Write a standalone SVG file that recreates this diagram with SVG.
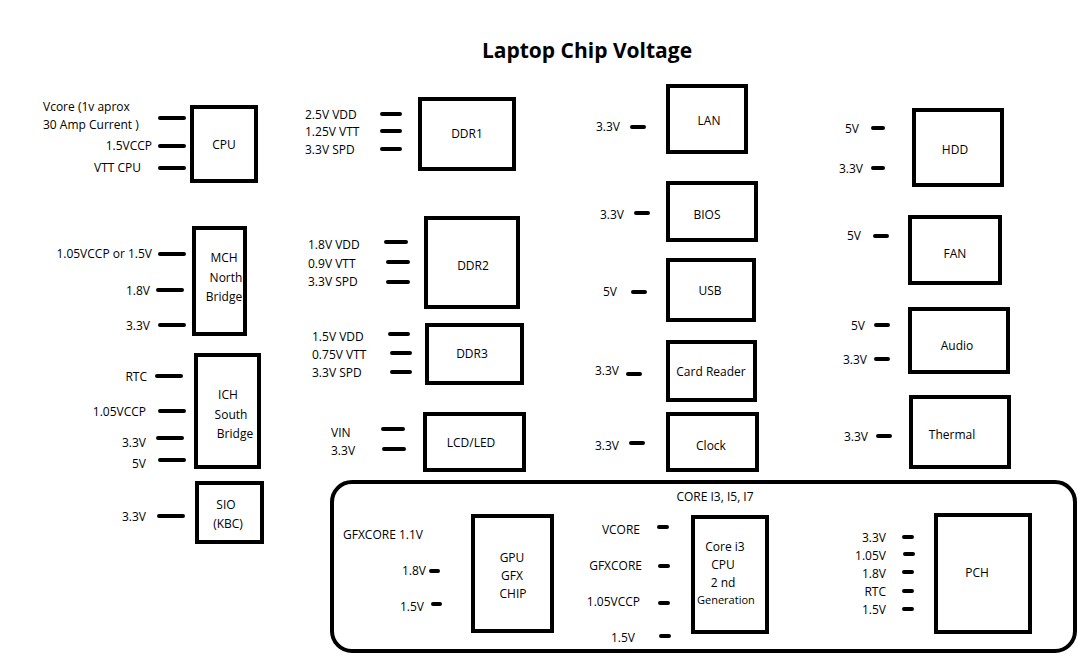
<svg xmlns="http://www.w3.org/2000/svg" width="1089" height="664" viewBox="0 0 1089 664">
<style>
.b{fill:#fff;stroke:#000;stroke-width:4}
.p{stroke:#000;stroke-width:4;stroke-linecap:round}
text{font-family:"Open Sans","Liberation Sans",sans-serif;font-size:12px;fill:#000}
.r{text-anchor:end}
.m{text-anchor:middle}
.t{font-size:21px;font-weight:bold}
</style>
<rect width="1089" height="664" fill="#fff"/>
<text class="t m" x="587" y="58">Laptop Chip Voltage</text>
<g id="group"><rect class="b" x="332" y="482" width="743" height="169" rx="20"/><text class="m" x="715" y="501">CORE I3, I5, I7</text></g>
<g id="cpu"><rect class="b" x="192" y="107" width="64" height="74"/><text class="m" x="224" y="149">CPU</text>
<text x="43" y="111">Vcore (1v aprox</text><text x="43" y="129">30 Amp Current )</text><text class="r" x="152" y="150">1.5VCCP</text><text class="r" x="141" y="172">VTT CPU</text></g>
<g id="mch"><rect class="b" x="194" y="228" width="51" height="106"/><text class="m" x="224" y="262">MCH</text><text class="m" x="226" y="282">North</text><text class="m" x="224" y="301">Bridge</text>
<text class="r" x="152" y="258">1.05VCCP or 1.5V</text><text class="r" x="150" y="295">1.8V</text><text class="r" x="150" y="330">3.3V</text></g>
<g id="ich"><rect class="b" x="196" y="355" width="63" height="112"/><text class="m" x="228" y="399">ICH</text><text class="m" x="231" y="419">South</text><text class="m" x="235" y="438">Bridge</text>
<text class="r" x="147" y="381">RTC</text><text class="r" x="146" y="416">1.05VCCP</text><text class="r" x="146" y="447">3.3V</text><text class="r" x="146" y="468">5V</text></g>
<g id="sio"><rect class="b" x="197" y="483" width="65" height="59"/><text class="m" x="226" y="509">SIO</text><text class="m" x="228" y="528">(KBC)</text><text class="r" x="146" y="521">3.3V</text></g>
<g id="ddr1"><rect class="b" x="420" y="99" width="94" height="70"/><text class="m" x="467" y="138">DDR1</text>
<text x="305" y="119">2.5V VDD</text><text x="305" y="136">1.25V VTT</text><text x="305" y="154">3.3V SPD</text></g>
<g id="ddr2"><rect class="b" x="426" y="218" width="92" height="89"/><text class="m" x="473" y="270">DDR2</text>
<text x="308" y="249">1.8V VDD</text><text x="308" y="268">0.9V VTT</text><text x="308" y="286">3.3V SPD</text></g>
<g id="ddr3"><rect class="b" x="427" y="325" width="95" height="58"/><text class="m" x="472" y="358">DDR3</text>
<text x="312" y="341">1.5V VDD</text><text x="312" y="359">0.75V VTT</text><text x="312" y="377">3.3V SPD</text></g>
<g id="lcd"><rect class="b" x="425" y="414" width="99" height="56"/><text class="m" x="471" y="447">LCD/LED</text>
<text x="331" y="437">VIN</text><text x="331" y="455">3.3V</text></g>
<g id="lan"><rect class="b" x="668" y="86" width="78" height="66"/><text class="m" x="709" y="125">LAN</text><text class="r" x="620" y="131">3.3V</text></g>
<g id="bios"><rect class="b" x="668" y="183" width="88" height="57"/><text class="m" x="707" y="219">BIOS</text><text class="r" x="624" y="219">3.3V</text></g>
<g id="usb"><rect class="b" x="668" y="260" width="86" height="60"/><text class="m" x="710" y="295">USB</text><text class="r" x="617" y="296">5V</text></g>
<g id="card"><rect class="b" x="668" y="342" width="87" height="58"/><text class="m" x="711" y="376">Card Reader</text><text class="r" x="619" y="375">3.3V</text></g>
<g id="clock"><rect class="b" x="668" y="414" width="89" height="56"/><text class="m" x="711" y="450">Clock</text><text class="r" x="619" y="450">3.3V</text></g>
<g id="hdd"><rect class="b" x="914" y="110" width="88" height="75"/><text class="m" x="955" y="154">HDD</text><text class="r" x="859" y="133">5V</text><text class="r" x="863" y="173">3.3V</text></g>
<g id="fan"><rect class="b" x="910" y="217" width="90" height="66"/><text class="m" x="955" y="258">FAN</text><text class="r" x="861" y="240">5V</text></g>
<g id="audio"><rect class="b" x="910" y="309" width="98" height="63"/><text class="m" x="957" y="350">Audio</text><text class="r" x="865" y="330">5V</text><text class="r" x="867" y="364">3.3V</text></g>
<g id="thermal"><rect class="b" x="911" y="397" width="98" height="70"/><text class="m" x="952" y="439">Thermal</text><text class="r" x="868" y="441">3.3V</text></g>
<g id="gpu"><rect class="b" x="473" y="516" width="79" height="115"/><text class="m" x="512" y="562">GPU</text><text class="m" x="512" y="580">GFX</text><text class="m" x="513" y="598">CHIP</text>
<text x="343" y="539">GFXCORE 1.1V</text><text class="r" x="426" y="575">1.8V</text><text class="r" x="424" y="611">1.5V</text></g>
<g id="corei3"><rect class="b" x="693" y="517" width="74" height="115"/><text class="m" x="725" y="551">Core i3</text><text class="m" x="723" y="569">CPU</text><text class="m" x="723" y="587">2 nd</text><text x="697" y="604" style="font-size:11px">Generation</text>
<text class="r" x="640" y="534">VCORE</text><text class="r" x="642" y="570">GFXCORE</text><text class="r" x="640" y="606">1.05VCCP</text><text class="r" x="635" y="642">1.5V</text></g>
<g id="pch"><rect class="b" x="936" y="515" width="94" height="117"/><text class="m" x="977" y="577">PCH</text>
<text class="r" x="886" y="542">3.3V</text><text class="r" x="886" y="560">1.05V</text><text class="r" x="886" y="578">1.8V</text><text class="r" x="886" y="596">RTC</text><text class="r" x="886" y="614">1.5V</text></g>
<g id="connectors">
<path class="p" d="M160 118h24M160 146h24M160 168h24M160 254h24M158 290h24M160 325h24M157 376h24M160 411h24M158 438h24M160 460h24M159 516h24
M382 114h18M382 131h18M382 149h18M386 242h20M388 262h20M388 282h20M390 334h18M392 353h18M392 372h18M383 429h20M384 449h20
M632 127h12M636 213h12M633 292h12M628 374h12M631 443h12
M873 128h10M873 168h10M875 236h12M876 325h12M876 359h12M878 436h12
M431 571h7M433 604h7M659 527h8M660 566h8M660 603h8M661 636h8M904 537h8M905 554h8M904 572h8M904 591h8M904 609h8"/>
</g>
</svg>
